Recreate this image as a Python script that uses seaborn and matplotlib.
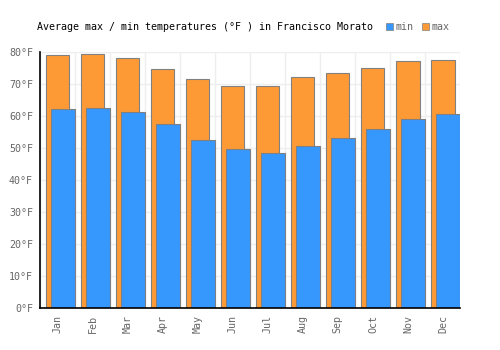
import matplotlib
matplotlib.use("Agg")
import matplotlib.pyplot as plt
from matplotlib.patches import Patch
import numpy as np
import pandas as pd
import seaborn as sns

# --- Data (°F) ---
months = ["Jan", "Feb", "Mar", "Apr", "May", "Jun",
          "Jul", "Aug", "Sep", "Oct", "Nov", "Dec"]
temp_max = [79.0, 79.3, 78.3, 74.8, 71.5, 69.3, 69.3, 72.1, 73.6, 74.9, 77.1, 77.4]
temp_min = [62.1, 62.4, 61.2, 57.4, 52.5, 49.7, 48.6, 50.5, 53.3, 56.1, 59.0, 60.8]
y_ticks = [0, 10, 20, 30, 40, 50, 60, 70, 80]

title = "Average max / min temperatures (°F ) in Francisco Morato"
color_min = "#3697fd"
color_max = "#fe9a35"
edge = "#808080"
text_grey = "#666666"

df = pd.DataFrame({"month": months, "max": temp_max, "min": temp_min})

sns.set_theme(style="white")
plt.rcParams["font.family"] = ["DejaVu Sans Mono", "DejaVu Sans"]

fig = plt.figure(figsize=(5, 3.5), dpi=100)
ax = fig.add_axes([0.08, 0.12, 0.841, 0.731])

# max bars first (behind), then min bars shifted right
sns.barplot(data=df, x="month", y="max", order=months, color=color_max,
            width=0.66, edgecolor=edge, linewidth=0.8, saturation=1, ax=ax)
n_max = len(ax.patches)
sns.barplot(data=df, x="month", y="min", order=months, color=color_min,
            width=0.70, edgecolor=edge, linewidth=0.8, saturation=1, ax=ax)
for p in ax.patches[n_max:]:
    p.set_x(p.get_x() + 0.15)

ax.set_xlim(-0.5, len(months) - 0.5)
ax.set_ylim(0, 80)
ax.set_yticks(y_ticks)
ax.set_yticklabels([f"{v}°F" for v in y_ticks])
ax.set_xlabel("")
ax.set_ylabel("")

# grid: horizontal at ticks, vertical between months
ax.set_xticks(np.arange(-0.5, len(months), 1.0), minor=True)
ax.grid(True, axis="y", which="major", color="#eeeeee", linewidth=1)
ax.grid(True, axis="x", which="minor", color="#eeeeee", linewidth=1)
ax.set_axisbelow(True)

ax.tick_params(axis="x", which="major", rotation=90, labelsize=7.2,
               labelcolor=text_grey, length=0, pad=5)
ax.tick_params(axis="x", which="minor", length=0)
ax.tick_params(axis="y", labelsize=7.2, labelcolor=text_grey, length=0, pad=5)

for side in ["top", "right"]:
    ax.spines[side].set_visible(False)
for side in ["left", "bottom"]:
    ax.spines[side].set_color("black")
    ax.spines[side].set_linewidth(1.2)

fig.text(0.41, 0.922, title, ha="center", va="center", fontsize=7.2, color="black")

handles = [Patch(facecolor=color_min, edgecolor=edge, linewidth=0.5, label="min"),
           Patch(facecolor=color_max, edgecolor=edge, linewidth=0.5, label="max")]
leg = fig.legend(handles=handles, loc="center left", bbox_to_anchor=(0.772, 0.922),
                 ncol=2, frameon=False, fontsize=7.2, handlelength=0.7,
                 handleheight=0.7, handletextpad=0.3, columnspacing=0.8,
                 borderpad=0, borderaxespad=0)
for t in leg.get_texts():
    t.set_color(text_grey)

fig.savefig("out.png", dpi=100)
